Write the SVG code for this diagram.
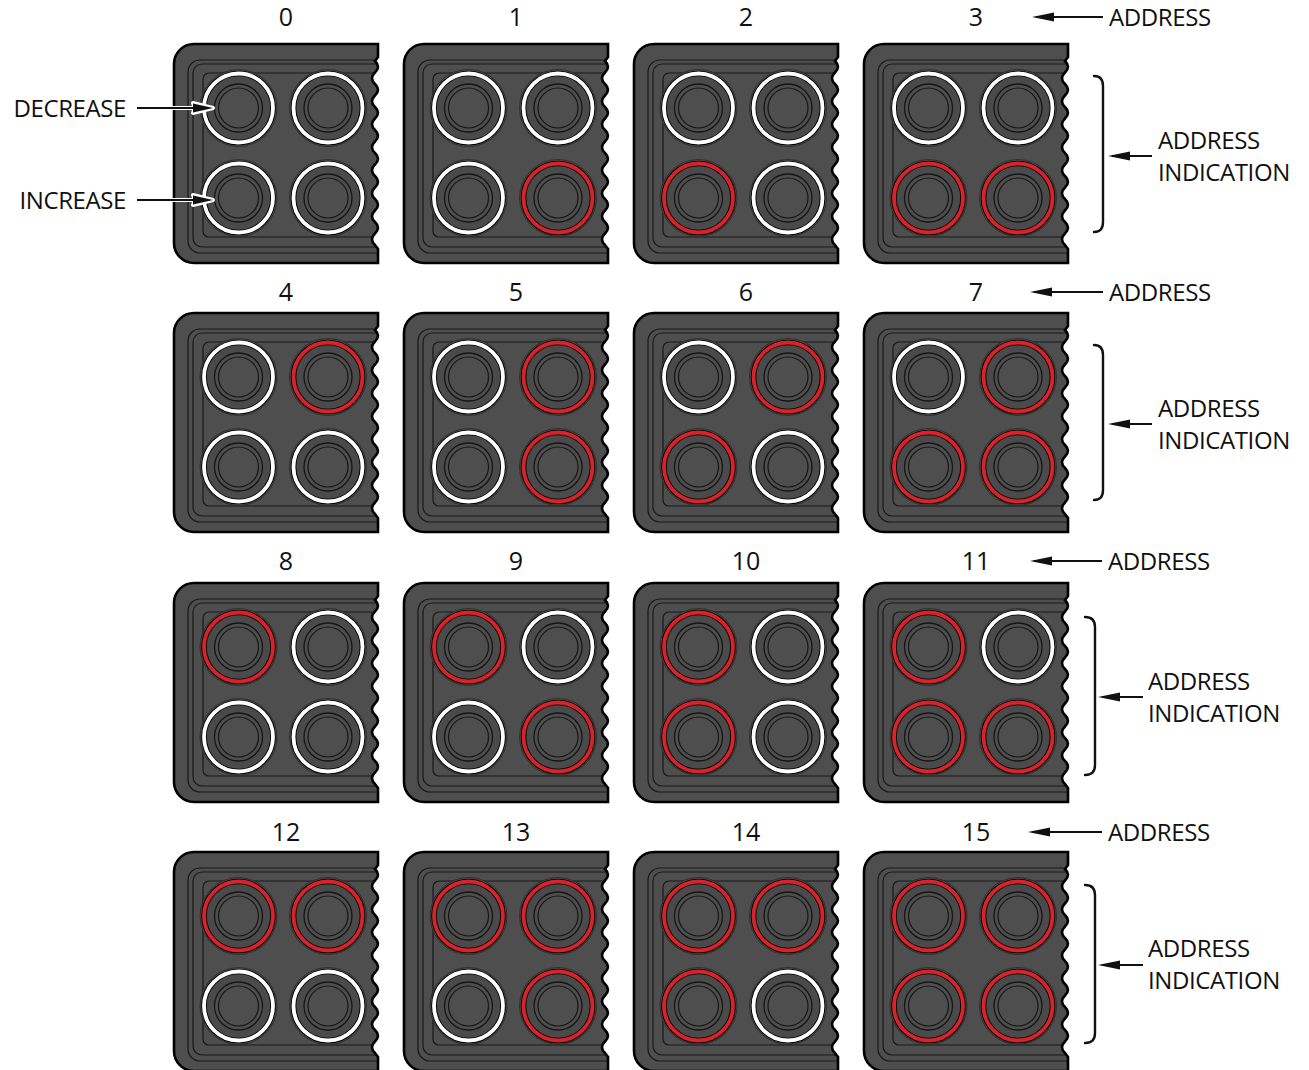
<svg xmlns="http://www.w3.org/2000/svg" xmlns:xlink="http://www.w3.org/1999/xlink" width="1309" height="1070" viewBox="0 0 1309 1070">
  <style>
    text { font-family: "Open Sans", "Noto Sans", "Liberation Sans", sans-serif; fill: #111; }
    .num { font-size: 25px; text-anchor: middle; }
    .lbl { font-size: 24px; letter-spacing: -0.4px; }
    .lbl-r { font-size: 24px; letter-spacing: -0.4px; text-anchor: end; }
    .wire { fill: none; stroke: #111; stroke-width: 2.2; }
    .brace { fill: none; stroke: #111; stroke-width: 2.4; stroke-linecap: round; }
    .halo { fill: #fff; stroke: #fff; stroke-width: 4; stroke-linejoin: round; }
    .head { fill: #111; }
    .tray { fill: none; stroke: #181818; stroke-width: 1.2; }
  </style>
  <defs>
    <!-- outline of one keypad section: rounded left corners, wavy torn right edge -->
    <path id="panel-outline" d="M0,20 A20,20 0 0 1 20,0 H204 V13 L201,17
      q6,5.75 0,11.5 t0,11.5 t0,11.5 t0,11.5 t0,11.5 t0,11.5 t0,11.5 t0,11.5
      t0,11.5 t0,11.5 t0,11.5 t0,11.5 t0,11.5 t0,11.5 t0,11.5 t0,11.5
      L204,205 V219 H20 A20,20 0 0 1 0,199 Z"/>
    <clipPath id="panel-clip">
      <use xlink:href="#panel-outline" href="#panel-outline"/>
    </clipPath>
    <g id="panel-body">
      <use xlink:href="#panel-outline" href="#panel-outline" fill="#4e4e4e"/>
      <g clip-path="url(#panel-clip)">
        <path class="tray" d="M240,16 H26 A12,12 0 0 0 14,28 V197 A12,12 0 0 0 26,209 H240"/>
        <path class="tray" d="M240,20 H28 A9,9 0 0 0 19,29 V194 A9,9 0 0 0 28,203 H240"/>
        <path class="tray" d="M240,29 H35 A6,6 0 0 0 29,35 V187 A6,6 0 0 0 35,193 H240"/>
      </g>
      <use xlink:href="#panel-outline" href="#panel-outline" fill="none" stroke="#000" stroke-width="2.6"/>
    </g>
    <!-- push button with indicator ring -->
    <g id="btn-base">
      <circle r="38.5" fill="#4a4a4a" stroke="#2c2c2c" stroke-width="0.9"/>
      <circle r="34.5" fill="none" stroke="#000" stroke-width="5.6"/>
    </g>
    <g id="btn-cap">
      <circle r="24" fill="#4e4e4e" stroke="#151515" stroke-width="1.3"/>
      <circle r="20" fill="none" stroke="#151515" stroke-width="1.2"/>
    </g>
    <g id="btn-off">
      <use xlink:href="#btn-base" href="#btn-base"/>
      <circle r="34.5" fill="none" stroke="#ffffff" stroke-width="3.8"/>
      <use xlink:href="#btn-cap" href="#btn-cap"/>
    </g>
    <g id="btn-on">
      <use xlink:href="#btn-base" href="#btn-base"/>
      <circle r="34.5" fill="none" stroke="#d8232a" stroke-width="3.8"/>
      <use xlink:href="#btn-cap" href="#btn-cap"/>
    </g>
    <marker id="ah" markerUnits="userSpaceOnUse" markerWidth="22" markerHeight="10" viewBox="0 0 22 10" refX="18" refY="5" orient="auto">
      <path d="M0,0.5 L22,5 L0,9.5 Z" fill="#111"/>
    </marker>
  </defs>

  <rect width="1309" height="1070" fill="#ffffff"/>

  <!-- row 1 -->
  <g id="panel-0" transform="translate(174,44)">
    <text class="num" x="112" y="-18">0</text>
    <use href="#panel-body"/>
    <use href="#btn-off" x="64.5" y="64"/><use href="#btn-off" x="154" y="64"/>
    <use href="#btn-off" x="64.5" y="154"/><use href="#btn-off" x="154" y="154"/>
  </g>
  <g id="panel-1" transform="translate(404,44)">
    <text class="num" x="112" y="-18">1</text>
    <use href="#panel-body"/>
    <use href="#btn-off" x="64.5" y="64"/><use href="#btn-off" x="154" y="64"/>
    <use href="#btn-off" x="64.5" y="154"/><use href="#btn-on" x="154" y="154"/>
  </g>
  <g id="panel-2" transform="translate(634,44)">
    <text class="num" x="112" y="-18">2</text>
    <use href="#panel-body"/>
    <use href="#btn-off" x="64.5" y="64"/><use href="#btn-off" x="154" y="64"/>
    <use href="#btn-on" x="64.5" y="154"/><use href="#btn-off" x="154" y="154"/>
  </g>
  <g id="panel-3" transform="translate(864,44)">
    <text class="num" x="112" y="-18">3</text>
    <use href="#panel-body"/>
    <use href="#btn-off" x="64.5" y="64"/><use href="#btn-off" x="154" y="64"/>
    <use href="#btn-on" x="64.5" y="154"/><use href="#btn-on" x="154" y="154"/>
  </g>

  <!-- row 2 -->
  <g id="panel-4" transform="translate(174,313)">
    <text class="num" x="112" y="-12">4</text>
    <use href="#panel-body"/>
    <use href="#btn-off" x="64.5" y="64"/><use href="#btn-on" x="154" y="64"/>
    <use href="#btn-off" x="64.5" y="154"/><use href="#btn-off" x="154" y="154"/>
  </g>
  <g id="panel-5" transform="translate(404,313)">
    <text class="num" x="112" y="-12">5</text>
    <use href="#panel-body"/>
    <use href="#btn-off" x="64.5" y="64"/><use href="#btn-on" x="154" y="64"/>
    <use href="#btn-off" x="64.5" y="154"/><use href="#btn-on" x="154" y="154"/>
  </g>
  <g id="panel-6" transform="translate(634,313)">
    <text class="num" x="112" y="-12">6</text>
    <use href="#panel-body"/>
    <use href="#btn-off" x="64.5" y="64"/><use href="#btn-on" x="154" y="64"/>
    <use href="#btn-on" x="64.5" y="154"/><use href="#btn-off" x="154" y="154"/>
  </g>
  <g id="panel-7" transform="translate(864,313)">
    <text class="num" x="112" y="-12">7</text>
    <use href="#panel-body"/>
    <use href="#btn-off" x="64.5" y="64"/><use href="#btn-on" x="154" y="64"/>
    <use href="#btn-on" x="64.5" y="154"/><use href="#btn-on" x="154" y="154"/>
  </g>

  <!-- row 3 -->
  <g id="panel-8" transform="translate(174,583)">
    <text class="num" x="112" y="-13">8</text>
    <use href="#panel-body"/>
    <use href="#btn-on" x="64.5" y="64"/><use href="#btn-off" x="154" y="64"/>
    <use href="#btn-off" x="64.5" y="154"/><use href="#btn-off" x="154" y="154"/>
  </g>
  <g id="panel-9" transform="translate(404,583)">
    <text class="num" x="112" y="-13">9</text>
    <use href="#panel-body"/>
    <use href="#btn-on" x="64.5" y="64"/><use href="#btn-off" x="154" y="64"/>
    <use href="#btn-off" x="64.5" y="154"/><use href="#btn-on" x="154" y="154"/>
  </g>
  <g id="panel-10" transform="translate(634,583)">
    <text class="num" x="112" y="-13">10</text>
    <use href="#panel-body"/>
    <use href="#btn-on" x="64.5" y="64"/><use href="#btn-off" x="154" y="64"/>
    <use href="#btn-on" x="64.5" y="154"/><use href="#btn-off" x="154" y="154"/>
  </g>
  <g id="panel-11" transform="translate(864,583)">
    <text class="num" x="112" y="-13">11</text>
    <use href="#panel-body"/>
    <use href="#btn-on" x="64.5" y="64"/><use href="#btn-off" x="154" y="64"/>
    <use href="#btn-on" x="64.5" y="154"/><use href="#btn-on" x="154" y="154"/>
  </g>

  <!-- row 4 -->
  <g id="panel-12" transform="translate(174,852)">
    <text class="num" x="112" y="-11">12</text>
    <use href="#panel-body"/>
    <use href="#btn-on" x="64.5" y="64"/><use href="#btn-on" x="154" y="64"/>
    <use href="#btn-off" x="64.5" y="154"/><use href="#btn-off" x="154" y="154"/>
  </g>
  <g id="panel-13" transform="translate(404,852)">
    <text class="num" x="112" y="-11">13</text>
    <use href="#panel-body"/>
    <use href="#btn-on" x="64.5" y="64"/><use href="#btn-on" x="154" y="64"/>
    <use href="#btn-off" x="64.5" y="154"/><use href="#btn-on" x="154" y="154"/>
  </g>
  <g id="panel-14" transform="translate(634,852)">
    <text class="num" x="112" y="-11">14</text>
    <use href="#panel-body"/>
    <use href="#btn-on" x="64.5" y="64"/><use href="#btn-on" x="154" y="64"/>
    <use href="#btn-on" x="64.5" y="154"/><use href="#btn-off" x="154" y="154"/>
  </g>
  <g id="panel-15" transform="translate(864,852)">
    <text class="num" x="112" y="-11">15</text>
    <use href="#panel-body"/>
    <use href="#btn-on" x="64.5" y="64"/><use href="#btn-on" x="154" y="64"/>
    <use href="#btn-on" x="64.5" y="154"/><use href="#btn-on" x="154" y="154"/>
  </g>

  <!-- callouts: labels -->
  <g id="labels">
    <text class="lbl-r" x="126" y="117">DECREASE</text>
    <text class="lbl-r" x="126" y="209">INCREASE</text>

    <text class="lbl" x="1109" y="26">ADDRESS</text>
    <text class="lbl" x="1158" y="149">ADDRESS</text>
    <text class="lbl" x="1158" y="181">INDICATION</text>

    <text class="lbl" x="1109" y="301">ADDRESS</text>
    <text class="lbl" x="1158" y="417">ADDRESS</text>
    <text class="lbl" x="1158" y="449">INDICATION</text>

    <text class="lbl" x="1108" y="570">ADDRESS</text>
    <text class="lbl" x="1148" y="690">ADDRESS</text>
    <text class="lbl" x="1148" y="722">INDICATION</text>

    <text class="lbl" x="1108" y="841">ADDRESS</text>
    <text class="lbl" x="1148" y="957">ADDRESS</text>
    <text class="lbl" x="1148" y="989">INDICATION</text>
  </g>

  <!-- connectors: pointer arrows and braces -->
  <g id="connectors">
    <!-- button pointers, haloed where they cross the panel -->
    <path class="halo" d="M137,108 H198"/>
    <path class="halo" d="M213,108 L193,103 L195,108 L193,113 Z"/>
    <path class="halo" d="M137,200 H198"/>
    <path class="halo" d="M213,200 L193,195 L195,200 L193,205 Z"/>
    <path class="wire" d="M137,108 H198"/>
    <path class="head" d="M213,108 L193,103.5 L193,112.5 Z"/>
    <path class="wire" d="M137,200 H198"/>
    <path class="head" d="M213,200 L193,195.5 L193,204.5 Z"/>

    <!-- address pointers -->
    <path class="wire" d="M1103,17 H1036" marker-end="url(#ah)"/>
    <path class="wire" d="M1103,292 H1034" marker-end="url(#ah)"/>
    <path class="wire" d="M1102,561 H1034" marker-end="url(#ah)"/>
    <path class="wire" d="M1102,832 H1032" marker-end="url(#ah)"/>

    <!-- indication braces -->
    <path class="brace" d="M1094,76 Q1103,76 1103,86 V222 Q1103,232 1094,232"/>
    <path class="wire" d="M1152,156 H1112" marker-end="url(#ah)"/>

    <path class="brace" d="M1094,345 Q1103,345 1103,355 V490 Q1103,500 1094,500"/>
    <path class="wire" d="M1152,424 H1112" marker-end="url(#ah)"/>

    <path class="brace" d="M1085,617 Q1095,617 1095,627 V765 Q1095,775 1085,775"/>
    <path class="wire" d="M1143,697 H1102" marker-end="url(#ah)"/>

    <path class="brace" d="M1085,885 Q1095,885 1095,895 V1033 Q1095,1043 1085,1043"/>
    <path class="wire" d="M1143,965 H1102" marker-end="url(#ah)"/>
  </g>
</svg>
